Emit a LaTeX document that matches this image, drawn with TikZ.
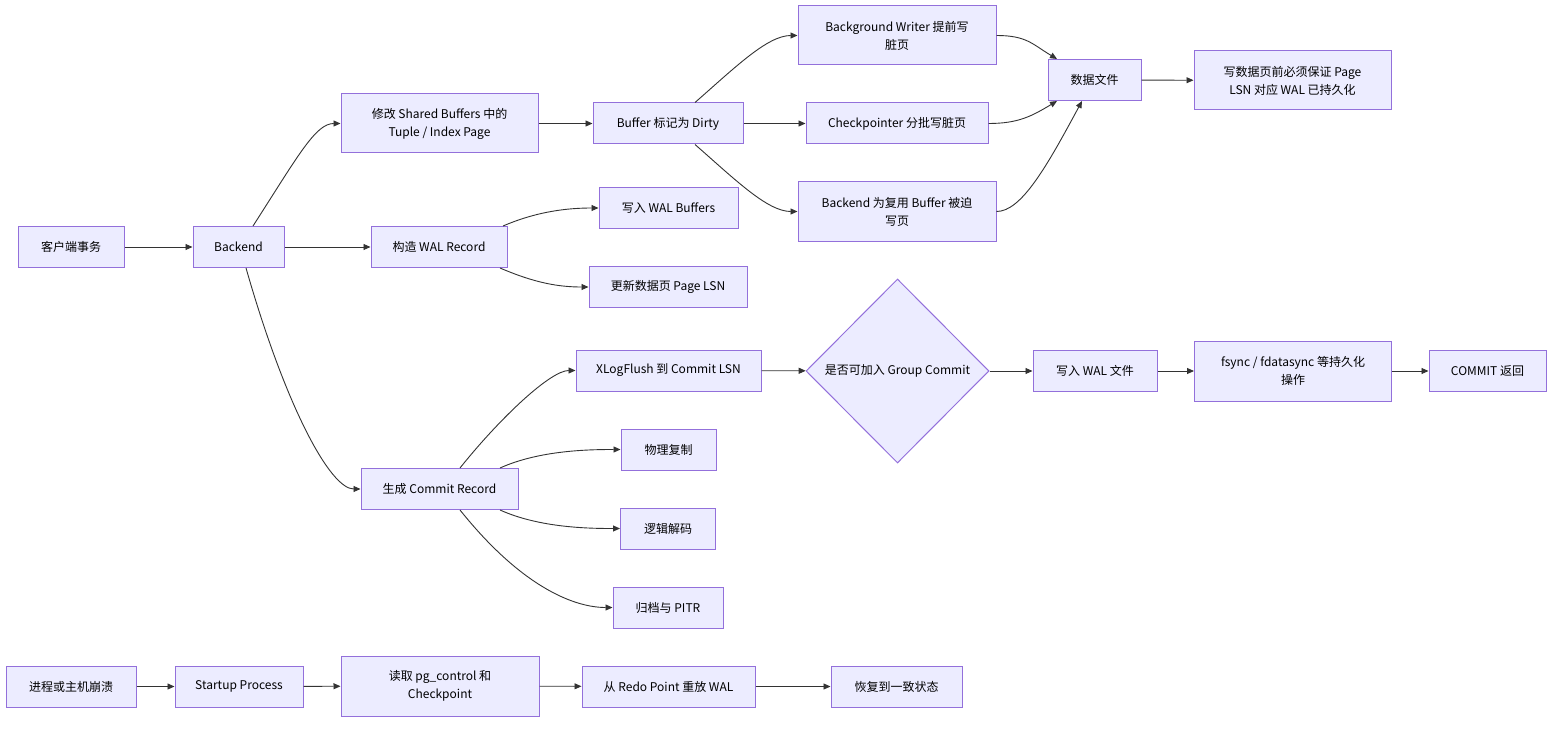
\documentclass[tikz,border=0pt]{standalone}
\usepackage{fontspec}
\setmainfont{Noto Sans CJK SC}
\usetikzlibrary{shapes.geometric, arrows.meta, positioning}

\definecolor{boxfill}{HTML}{ECECFF}
\definecolor{boxline}{HTML}{9370DB}
\definecolor{flowline}{HTML}{333333}

\begin{document}
\begin{tikzpicture}[x=1pt, y=-1pt,
    box/.style={draw=boxline, fill=boxfill, line width=1pt, minimum height=41pt,
        inner sep=0pt, align=center, font=\fontsize{12}{18}\selectfont},
    decide/.style={box, diamond, aspect=1},
    flow/.style={draw=flowline, line width=0.9pt, -{Triangle[length=7pt, width=6pt]}}]
    \useasboundingbox (0,0) rectangle (1568,730);

    % 事务入口
    \node[box, minimum width=106pt] (client) at (71,247) {客户端事务};
    \node[box, minimum width=91pt] (backend) at (238.5,247) {Backend};
    \node[box, minimum width=197pt, minimum height=59pt] (modify) at (439.5,123.5) {修改 Shared Buffers 中的\\Tuple / Index Page};
    \node[box, minimum width=136pt] (walrec) at (439,247) {构造 WAL Record};
    \node[box, minimum width=157pt] (commitrec) at (439.5,489) {生成 Commit Record};

    % 1. 脏页写出
    \node[box, minimum width=150pt] (dirty) at (668,123.5) {Buffer 标记为 Dirty};
    \node[box, minimum width=198pt, minimum height=59pt] (bgwriter) at (897,35.5) {Background Writer 提前写\\脏页};
    \node[box, minimum width=182pt] (ckpt) at (897,123.5) {Checkpointer 分批写脏页};
    \node[box, minimum width=198pt, minimum height=59pt] (evict) at (897,211.5) {Backend 为复用 Buffer 被迫\\写页};
    \node[box, minimum width=93pt] (datafile) at (1094.5,80) {数据文件};
    \node[box, minimum width=197pt, minimum height=59pt] (walrule) at (1292.5,80.5) {写数据页前必须保证 Page\\LSN 对应 WAL 已持久化};

    % 2. WAL 记录
    \node[box, minimum width=139pt] (walbuf) at (668.5,208) {写入 WAL Buffers};
    \node[box, minimum width=158pt] (pagelsn) at (668,287) {更新数据页 Page LSN};

    % 3. 提交路径
    \node[box, minimum width=185pt] (xlogflush) at (668.5,370.5) {XLogFlush 到 Commit LSN};
    \node[decide, minimum width=183pt, minimum height=184pt] (group) at (897.5,371) {是否可加入 Group Commit};
    \node[box, minimum width=124pt] (walfile) at (1095,371) {写入 WAL 文件};
    \node[box, minimum width=197pt, minimum height=60pt] (fsync) at (1293,371) {fsync / fdatasync 等持久化\\操作};
    \node[box, minimum width=117pt] (done) at (1487.5,371) {COMMIT 返回};
    \node[box, minimum width=95pt] (physrep) at (668.5,449.5) {物理复制};
    \node[box, minimum width=95pt] (logdec) at (668,528.5) {逻辑解码};
    \node[box, minimum width=110pt] (archive) at (668,607.5) {归档与 PITR};

    % 4. 崩溃恢复
    \node[box, minimum width=130pt] (crash) at (71,686.5) {进程或主机崩溃};
    \node[box, minimum width=128pt] (startup) at (239,686.5) {Startup Process};
    \node[box, minimum width=198pt, minimum height=60pt] (readctl) at (440,686) {读取 pg\_control 和\\Checkpoint};
    \node[box, minimum width=173pt] (redo) at (668.5,686.5) {从 Redo Point 重放 WAL};
    \node[box, minimum width=131pt] (consistent) at (896.5,686.5) {恢复到一致状态};

    % 连线
    \draw[flow] (client) -- (backend);
    \draw[flow] ([xshift=14.5pt]backend.north) .. controls +(45,-70) and +(-25,0) .. (modify.west);
    \draw[flow] (backend) -- (walrec);
    \draw[flow] ([xshift=7.5pt]backend.south) .. controls +(40,140) and +(-30,0) .. (commitrec.west);

    \draw[flow] (modify) -- (dirty);
    \draw[flow] ([xshift=27pt]dirty.north) .. controls +(40,-35) and +(-30,0) .. (bgwriter.west);
    \draw[flow] (dirty) -- (ckpt);
    \draw[flow] ([xshift=27pt]dirty.south) .. controls +(40,35) and +(-30,0) .. (evict.west);
    \draw[flow] (bgwriter.east) .. controls +(30,0) and +(-25,-15) .. ([xshift=-37.5pt]datafile.north);
    \draw[flow] (ckpt.east) .. controls +(30,0) and +(-25,15) .. ([xshift=-37.5pt]datafile.south);
    \draw[flow] (evict.east) .. controls +(25,0) and +(-35,65) .. ([xshift=-12.5pt]datafile.south);
    \draw[flow] (datafile) -- (walrule);

    \draw[flow] ([xshift=64pt]walrec.north) .. controls +(35,-15) and +(-30,0) .. (walbuf.west);
    \draw[flow] ([xshift=61pt]walrec.south) .. controls +(35,15) and +(-30,0) .. (pagelsn.west);

    \draw[flow] ([xshift=20.5pt]commitrec.north) .. controls +(40,-50) and +(-25,0) .. (xlogflush.west);
    \draw[flow] ([xshift=60.5pt]commitrec.north) .. controls +(40,-18) and +(-30,0) .. (physrep.west);
    \draw[flow] ([xshift=60.5pt]commitrec.south) .. controls +(40,18) and +(-30,0) .. (logdec.west);
    \draw[flow] ([xshift=20.5pt]commitrec.south) .. controls +(60,75) and +(-40,0) .. (archive.west);
    \draw[flow] (xlogflush) -- (group);
    \draw[flow] (group) -- (walfile);
    \draw[flow] (walfile) -- (fsync);
    \draw[flow] (fsync) -- (done);

    \draw[flow] (crash) -- (startup);
    \draw[flow] (startup) -- (readctl);
    \draw[flow] (readctl) -- (redo);
    \draw[flow] (redo) -- (consistent);
\end{tikzpicture}
\end{document}
